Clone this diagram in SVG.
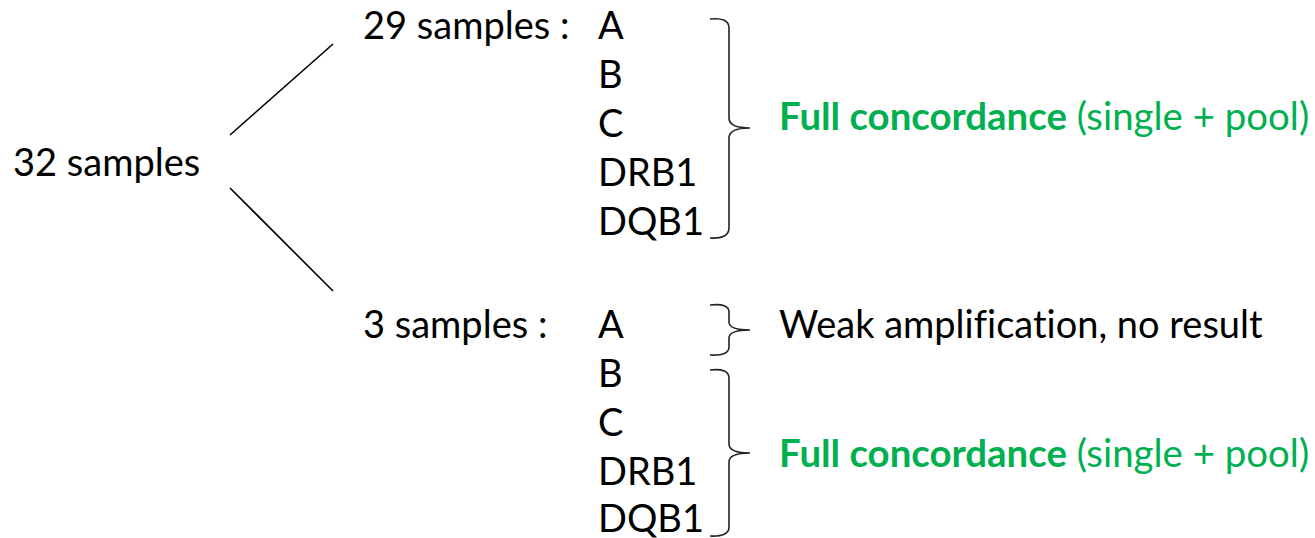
<svg xmlns="http://www.w3.org/2000/svg" width="1315" height="538" viewBox="0 0 1315 538">
<style>
text{font-family:Lato,"Open Sans","Liberation Sans",sans-serif;font-size:38px;fill:#000;font-variant-ligatures:none}
.g{fill:#00B050;font-size:38.4px}
.b{font-weight:bold}
.ln{stroke:#000;stroke-width:1.6;fill:none}
.br{stroke:#222;stroke-width:1.6;fill:none}
</style>
<rect width="1315" height="538" fill="#fff"/>
<g id="connectors">
<line class="ln" x1="230" y1="135" x2="333" y2="44"/>
<line class="ln" x1="230" y1="188" x2="333" y2="291"/>
</g>
<g id="root"><text x="13" y="176">32 samples</text></g>
<g id="group29">
<text x="363" y="39">29 samples :</text>
<text x="598" y="39">A</text>
<text x="598" y="88">B</text>
<text x="598" y="137">C</text>
<text x="598" y="186">DRB1</text>
<text x="598" y="235">DQB1</text>
</g>
<g id="brace1"><path class="br" d="M710,19 Q729,17 729,28 L729,118 Q729,128 750,128 Q729,128 729,138 L729,228 Q729,239 710,238"/></g>
<g id="result1"><text class="g" x="779" y="130"><tspan class="b">Full concordance</tspan> (single + pool)</text></g>
<g id="group3">
<text x="363" y="338">3 samples :</text>
<text x="598" y="338">A</text>
<text x="598" y="387">B</text>
<text x="598" y="436">C</text>
<text x="598" y="485">DRB1</text>
<text x="598" y="532">DQB1</text>
</g>
<g id="brace2"><path class="br" d="M710,305 Q729,303 729,312 L729,322 Q729,330 750,330 Q729,330 729,338 L729,347 Q729,356 710,355"/></g>
<g id="result2"><text x="779" y="338">Weak amplification, no result</text></g>
<g id="brace3"><path class="br" d="M710,370 Q729,368 729,378 L729,444 Q729,453 750,453 Q729,453 729,462 L729,527 Q729,537 710,536"/></g>
<g id="result3"><text class="g" x="779" y="467"><tspan class="b">Full concordance</tspan> (single + pool)</text></g>
</svg>
